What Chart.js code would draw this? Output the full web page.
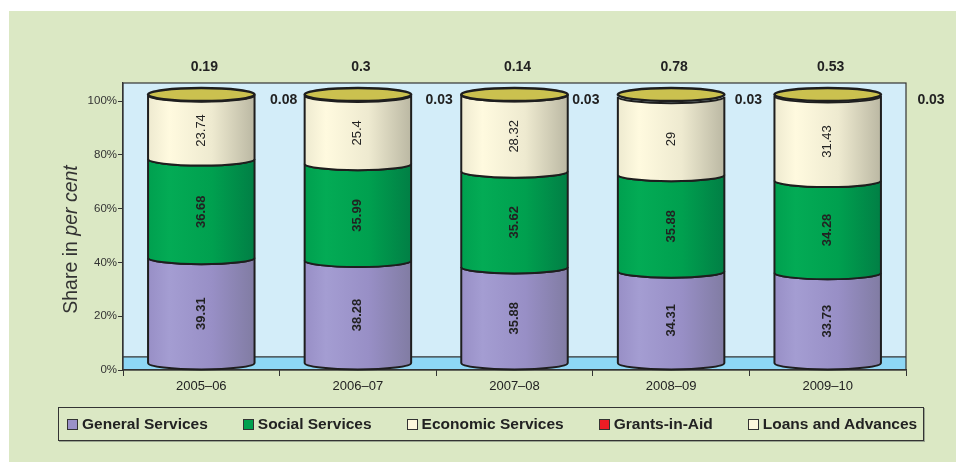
<!DOCTYPE html>
<html>
<head>
<meta charset="utf-8">
<script src="https://cdn.jsdelivr.net/npm/chart.js@4"></script>
<style>
  body { margin: 0; background: #fff; font-family: "Liberation Sans", Arial, sans-serif; }
  #wrap { position: relative; width: 956px; height: 462px; }
  #legend {
    position: absolute; left: 58px; top: 407px; width: 866px; height: 34px;
    box-sizing: border-box; border: 1.5px solid #333; box-shadow: 1px 1px 0 #9aa590;
    display: flex; align-items: center; padding-left: 8px; gap: 35px;
    font-weight: bold; font-size: 15.5px; color: #222;
  }
  .item { display: flex; align-items: center; white-space: nowrap; }
  .box { width: 9px; height: 9px; border: 1px solid #333; margin-right: 4px; }
</style>
</head>
<body>
<div id="wrap">
  <canvas id="chart" width="956" height="462"></canvas>
  <div id="legend"></div>
</div>
<script>
// =====================
// Data
// =====================
const years = ["2005\u201306", "2006\u201307", "2007\u201308", "2008\u201309", "2009\u201310"];
const seriesNames = ["General Services", "Social Services", "Economic Services", "Grants-in-Aid", "Loans and Advances"];

const general  = [39.31, 38.28, 35.88, 34.31, 33.73];
const social   = [36.68, 35.99, 35.62, 35.88, 34.28];
const economic = [23.74, 25.4, 28.32, 29, 31.43];
const grants   = [0.19, 0.3, 0.14, 0.78, 0.53];
const loans    = [0.08, 0.03, 0.03, 0.03, 0.03];

const yTicks = [0, 20, 40, 60, 80, 100];

// colours: [left, middle, right] of each cylinder body
const shades = [
  ["#a49dd2", "#988fc6", "#817ca3"],
  ["#03ab55", "#00a04f", "#017f45"],
  ["#fffadf", "#eeead0", "#bbb8a3"]
];
const legendColors = ["#9a92c8", "#00a14f", "#fdf8dc", "#ee1c25", "#fdf8dc"];

const FONT = '"Liberation Sans", Arial, sans-serif';

// =====================
// Legend (html)
// =====================
const legendEl = document.getElementById("legend");
seriesNames.forEach((name, k) => {
  const item = document.createElement("div");
  item.className = "item";
  item.innerHTML = `<span class="box" style="background:${legendColors[k]}"></span><span>${name}</span>`;
  legendEl.appendChild(item);
});

// =====================
// Plugins
// =====================
const backdrop = {
  id: "backdrop",
  beforeDraw(chart) {
    const { ctx, chartArea: a } = chart;
    const y = chart.scales.y;
    ctx.save();
    ctx.fillStyle = "#fff";
    ctx.fillRect(0, 0, chart.width, chart.height);
    ctx.fillStyle = "#dbe8c4";
    ctx.fillRect(9, 11, chart.width - 9, chart.height - 11);
    ctx.fillStyle = "#d3edf9";
    ctx.fillRect(a.left, a.top, a.right - a.left, a.bottom - a.top);
    // floor
    const fy = y.getPixelForValue(4.9);
    ctx.fillStyle = "#8ed7f5";
    ctx.fillRect(a.left, fy, a.right - a.left, a.bottom - fy);
    ctx.strokeStyle = "#333";
    ctx.lineWidth = 1.2;
    ctx.beginPath();
    ctx.moveTo(a.left, fy); ctx.lineTo(a.right, fy);
    ctx.stroke();
    ctx.strokeRect(a.left, a.top, a.right - a.left, a.bottom - a.top);
    // y title with italic part
    ctx.translate(72, (a.top + a.bottom) / 2 + 13);
    ctx.rotate(-Math.PI / 2);
    ctx.fillStyle = "#333";
    ctx.textBaseline = "middle";
    const p1 = "Share in ", p2 = "per cent";
    ctx.font = "19.5px " + FONT;
    const w1 = ctx.measureText(p1).width;
    ctx.font = "italic 19.5px " + FONT;
    const w2 = ctx.measureText(p2).width;
    let sx = -(w1 + w2) / 2;
    ctx.font = "19.5px " + FONT;
    ctx.fillText(p1, sx, 0);
    ctx.font = "italic 19.5px " + FONT;
    ctx.fillText(p2, sx + w1, 0);
    ctx.restore();
  }
};

function bodyGradient(ctx, x0, x1, c) {
  const g = ctx.createLinearGradient(x0, 0, x1, 0);
  g.addColorStop(0, c[1]);
  g.addColorStop(0.2, c[0]);
  g.addColorStop(0.6, c[1]);
  g.addColorStop(1, c[2]);
  return g;
}

const cylinders = {
  id: "cylinders",
  afterDatasetsDraw(chart) {
    const ctx = chart.ctx;
    const ry = 6.5;
    const y = chart.scales.y;
    const xs = chart.scales.x;
    const sideShift = [4, 3, -7, -1, 25];
    ctx.save();
    years.forEach((yr, i) => {
      // bodies of the three big segments; the thin top ones hide under the lid
      for (let d = 0; d < 3; d++) {
        const bar = chart.getDatasetMeta(d).data[i];
        const rx = bar.width / 2;
        const x0 = bar.x - rx, x1 = bar.x + rx;
        const cyB = bar.base - ry, cyT = bar.y - ry;
        ctx.beginPath();
        ctx.moveTo(x0, cyT);
        ctx.lineTo(x0, cyB);
        ctx.ellipse(bar.x, cyB, rx, ry, 0, Math.PI, 0, true);
        ctx.lineTo(x1, cyT);
        ctx.ellipse(bar.x, cyT, rx, ry, 0, 0, Math.PI, false);
        ctx.closePath();
        ctx.fillStyle = bodyGradient(ctx, x0, x1, shades[d]);
        ctx.fill();
        ctx.strokeStyle = "#1e1e1e";
        ctx.lineWidth = 2;
        ctx.stroke();
      }
      // top face
      const topBar = chart.getDatasetMeta(4).data[i];
      const rx = topBar.width / 2;
      ctx.beginPath();
      ctx.ellipse(topBar.x, topBar.y - ry, rx, ry, 0, 0, Math.PI * 2);
      ctx.fillStyle = "#cbc14f";
      ctx.fill();
      ctx.strokeStyle = "#1e1e1e";
      ctx.lineWidth = 2.5;
      ctx.stroke();

      // segment labels
      [general, social, economic].forEach((arr, d) => {
        const bar = chart.getDatasetMeta(d).data[i];
        ctx.save();
        ctx.translate(bar.x, (bar.y + bar.base) / 2 - ry / 2);
        ctx.rotate(-Math.PI / 2);
        ctx.font = (d < 2 ? "bold " : "") + "13px " + FONT;
        ctx.fillStyle = "#222";
        ctx.textAlign = "center";
        ctx.textBaseline = "middle";
        ctx.fillText(String(arr[i]), 0, 0);
        ctx.restore();
      });

      // grants above, loans beside
      ctx.font = "bold 14px " + FONT;
      ctx.fillStyle = "#222";
      ctx.textAlign = "center";
      ctx.textBaseline = "middle";
      ctx.fillText(grants[i].toFixed(2).replace(/0$/, ""), topBar.x + 3, chart.chartArea.top - 16);
      const edge = xs.getPixelForValue(i) + (xs.getPixelForValue(1) - xs.getPixelForValue(0)) / 2;
      ctx.fillText(loans[i].toFixed(2), edge + sideShift[i], y.getPixelForValue(100) - 0.5);
    });
    ctx.restore();
  }
};

// =====================
// Chart
// =====================
const allSeries = [general, social, economic, grants, loans];

new Chart(document.getElementById("chart"), {
  type: "bar",
  data: {
    labels: years,
    datasets: allSeries.map((arr, k) => ({
      label: seriesNames[k],
      data: arr,
      backgroundColor: "rgba(0,0,0,0)",
      borderWidth: 0,
      categoryPercentage: 1,
      barPercentage: 0.68
    }))
  },
  options: {
    responsive: false,
    animation: false,
    layout: { padding: { left: 85, top: 83, right: 50, bottom: 62 } },
    plugins: {
      legend: { display: false },
      tooltip: { enabled: false }
    },
    scales: {
      x: {
        stacked: true,
        afterFit: s => { s.height = 30; },
        grid: { drawOnChartArea: false, tickLength: 6, color: "#333", offset: true },
        border: { color: "#333", width: 1.2 },
        ticks: { color: "#222", font: { family: FONT, size: 13 }, padding: 3 }
      },
      y: {
        stacked: true,
        min: 0,
        max: 106.7,
        afterFit: s => { s.width = 38; },
        afterBuildTicks: s => { s.ticks = yTicks.map(v => ({ value: v })); },
        grid: { drawOnChartArea: false, tickLength: 5, color: "#333" },
        border: { color: "#333", width: 1.2 },
        ticks: {
          color: "#333",
          font: { family: FONT, size: 11.5 },
          padding: 1,
          callback: v => v + "%"
        }
      }
    }
  },
  plugins: [backdrop, cylinders]
});
</script>
</body>
</html>
